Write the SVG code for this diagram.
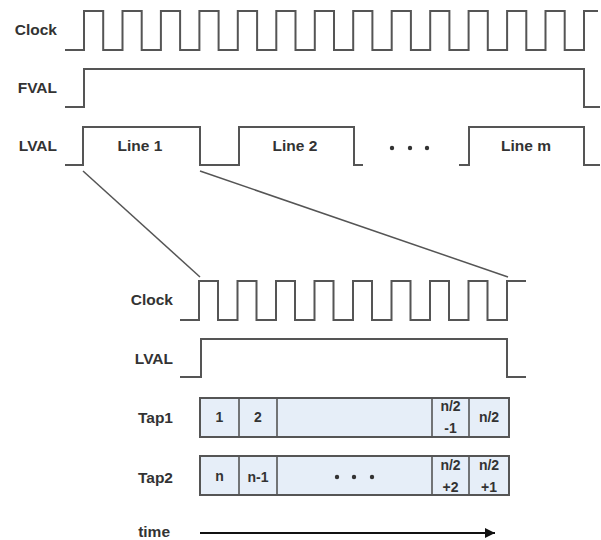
<svg xmlns="http://www.w3.org/2000/svg" width="601" height="540" viewBox="0 0 601 540">
<defs>
<style>
.lbl{font-family:"Liberation Sans",Arial,sans-serif;font-weight:bold;font-size:15.5px;fill:#333;text-anchor:end}
.ct{font-family:"Liberation Sans",Arial,sans-serif;font-weight:bold;font-size:14px;fill:#333;text-anchor:middle}
.sig{fill:none;stroke:#555;stroke-width:2;stroke-linejoin:miter}
.diag{fill:none;stroke:#555;stroke-width:1.5}
.cell{fill:#e6eef8;stroke:#555;stroke-width:2}
.div{stroke:#555;stroke-width:1.6}
.dot{fill:#333}
</style>
<marker id="arr" viewBox="0 0 10 10" refX="10" refY="5" markerWidth="17" markerHeight="10" markerUnits="userSpaceOnUse" orient="auto">
<path d="M0,0 L10,5 L0,10 Z" fill="#111"/>
</marker>
</defs>
<rect width="601" height="540" fill="#fff"/>

<g id="top-clock">
<text class="lbl" x="57" y="35">Clock</text>
<path class="sig" d="M65,50 H84 V11 H103.2 V50 H122.5 V11 H141.7 V50 H160.9 V11 H180.1 V50 H199.4 V11 H218.6 V50 H237.8 V11 H257.1 V50 H276.3 V11 H295.5 V50 H314.8 V11 H334 V50 H353.2 V11 H372.4 V50 H391.7 V11 H410.9 V50 H430.2 V11 H449.4 V50 H468.6 V11 H487.8 V50 H507.1 V11 H526.3 V50 H545.5 V11 H564.7 V50 H584 V11 H598"/>
</g>

<g id="top-fval">
<text class="lbl" x="57" y="93">FVAL</text>
<path class="sig" d="M65,107 H84 V69 H584 V107 H600"/>
</g>

<g id="top-lval">
<text class="lbl" x="57" y="151">LVAL</text>
<path class="sig" d="M65,165 H83 V127 H200 V165 H239 V127 H354 V165 H363"/>
<path class="sig" d="M459,165 H469 V127 H584 V165 H600"/>
<text class="ct" style="font-size:15.5px" x="140" y="151">Line 1</text>
<text class="ct" style="font-size:15.5px" x="295" y="151">Line 2</text>
<text class="ct" style="font-size:15.5px" x="526" y="151">Line m</text>
<circle class="dot" cx="392" cy="148" r="2.2"/>
<circle class="dot" cx="410" cy="148" r="2.2"/>
<circle class="dot" cx="427" cy="148" r="2.2"/>
</g>

<g id="connectors">
<path class="diag" d="M83,171 L200,277"/>
<path class="diag" d="M200,171 L508,277"/>
<path d="M200,533 H495" stroke="#111" stroke-width="2" fill="none" marker-end="url(#arr)"/>
</g>

<g id="bottom-clock">
<text class="lbl" x="173" y="305">Clock</text>
<path class="sig" d="M180,320 H199 V281 H218 V320 H237.5 V281 H256.5 V320 H276 V281 H295 V320 H314.5 V281 H333.5 V320 H353 V281 H372 V320 H391.5 V281 H410.5 V320 H430 V281 H449 V320 H468.5 V281 H487.5 V320 H507 V281 H526"/>
</g>

<g id="bottom-lval">
<text class="lbl" x="173" y="364">LVAL</text>
<path class="sig" d="M180,377 H201 V339 H507 V377 H526"/>
</g>

<g id="tap1">
<text class="lbl" x="173" y="423">Tap1</text>
<rect class="cell" x="200" y="398" width="309" height="39"/>
<line class="div" x1="239" y1="398" x2="239" y2="437"/>
<line class="div" x1="277" y1="398" x2="277" y2="437"/>
<line class="div" x1="432" y1="398" x2="432" y2="437"/>
<line class="div" x1="469" y1="398" x2="469" y2="437"/>
<text class="ct" x="219.5" y="422">1</text>
<text class="ct" x="258" y="422">2</text>
<text class="ct" x="450.5" y="411">n/2</text>
<text class="ct" x="450.5" y="433">-1</text>
<text class="ct" x="489" y="422">n/2</text>
</g>

<g id="tap2">
<text class="lbl" x="173" y="483">Tap2</text>
<rect class="cell" x="200" y="456" width="309" height="39"/>
<line class="div" x1="239" y1="456" x2="239" y2="495"/>
<line class="div" x1="277" y1="456" x2="277" y2="495"/>
<line class="div" x1="432" y1="456" x2="432" y2="495"/>
<line class="div" x1="469" y1="456" x2="469" y2="495"/>
<text class="ct" x="219.5" y="481">n</text>
<text class="ct" x="258" y="482">n-1</text>
<circle class="dot" cx="337" cy="477" r="2.2"/>
<circle class="dot" cx="354" cy="477" r="2.2"/>
<circle class="dot" cx="372" cy="477" r="2.2"/>
<text class="ct" x="450.5" y="470">n/2</text>
<text class="ct" x="450.5" y="492">+2</text>
<text class="ct" x="489" y="470">n/2</text>
<text class="ct" x="489" y="492">+1</text>
</g>

<g id="time">
<text class="lbl" x="170" y="537">time</text>
</g>
</svg>
